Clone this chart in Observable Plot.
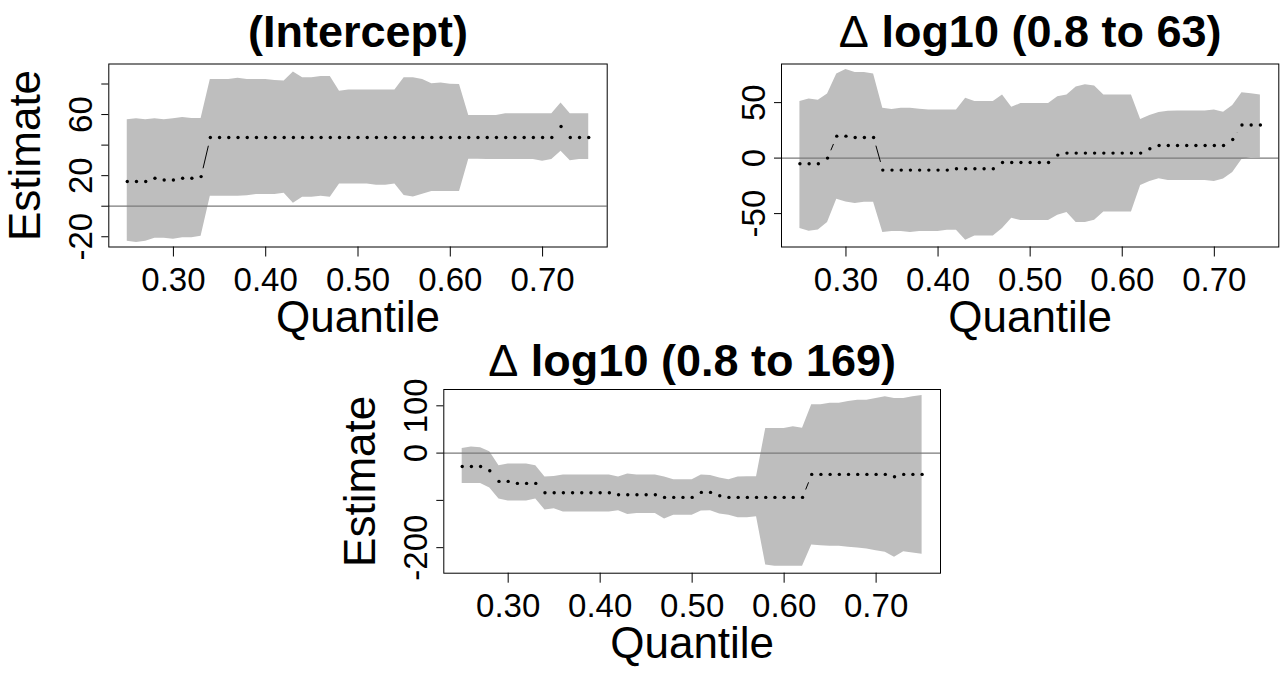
<!DOCTYPE html>
<html><head><meta charset="utf-8">
<script src="https://cdn.jsdelivr.net/npm/d3@7"></script>
<script src="https://cdn.jsdelivr.net/npm/@observablehq/plot@0.6"></script>
<style>
body{margin:0;background:#fff}
#chart{position:relative;width:1282px;height:675px;background:#fff;overflow:hidden}
#chart svg{position:absolute;overflow:visible}
</style></head><body><div id="chart"></div>
<script>
// ---------- data ----------
const taus = [0.25,0.26,0.27,0.28,0.29,0.30,0.31,0.32,0.33,0.34,0.35,0.36,0.37,0.38,0.39,0.40,0.41,0.42,0.43,0.44,0.45,0.46,0.47,0.48,0.49,0.50,0.51,0.52,0.53,0.54,0.55,0.56,0.57,0.58,0.59,0.60,0.61,0.62,0.63,0.64,0.65,0.66,0.67,0.68,0.69,0.70,0.71,0.72,0.73,0.74,0.75];

const interceptEst = [16.2,16.2,16.2,18.3,17.2,17.2,18.3,18.3,19.4,
  45.0,45.0,45.0,45.0,45.0,45.0,45.0,45.0,45.0,45.0,45.0,45.0,45.0,45.0,
  45.0,45.0,45.0,45.0,45.0,45.0,45.0,45.0,45.0,45.0,45.0,45.0,45.0,45.0,
  45.0,45.0,45.0,45.0,45.0,45.0,45.0,45.0,45.0,45.0,52.2,45.0,45.0,45.0];
const interceptHi = [56.6,57.2,56.6,57.2,56.6,57.2,58.1,57.4,57.4,
  83.0,83.0,83.0,83.8,83.0,83.0,83.0,82.3,81.9,87.8,84.1,84.1,84.9,84.9,
  75.3,76.0,76.0,76.0,76.0,76.0,76.0,84.1,84.1,83.0,80.1,80.6,79.9,79.7,
  59.4,59.4,59.4,59.4,60.5,60.5,60.5,60.5,60.5,60.5,67.5,60.5,60.5,60.5];
const interceptLo = [-22.9,-23.8,-22.9,-21.0,-21.0,-21.6,-20.7,-20.7,-19.7,
  6.6,6.6,6.6,6.6,6.8,7.6,7.6,7.6,8.5,2.0,5.9,5.9,6.6,5.9,
  14.6,14.6,14.6,14.6,13.8,13.8,14.6,7.0,6.1,7.9,9.6,9.6,9.6,9.6,
  30.8,30.8,30.6,30.6,30.6,30.6,30.6,30.6,29.5,30.6,36.0,29.7,30.6,30.6];

const d63Est = [-5.1,-5.1,-5.1,0.0,19.8,19.8,18.6,18.6,18.6,
  -10.8,-10.8,-10.8,-10.8,-10.8,-10.8,-10.8,-10.8,-9.6,-9.6,-9.6,-9.6,-9.6,-3.9,
  -3.9,-3.9,-3.9,-3.9,-3.9,2.7,4.5,4.5,4.5,4.5,4.5,4.5,4.5,4.5,
  4.5,8.4,11.4,11.4,11.4,11.4,11.4,11.4,11.4,11.4,16.8,29.9,29.9,29.9];
const d63Hi = [50.9,53.3,52.1,57.8,75.7,79.9,77.2,77.2,75.7,
  44.9,43.7,44.9,44.9,44.0,43.4,43.4,43.4,43.4,53.9,50.9,50.9,50.9,56.9,
  45.8,49.1,49.1,49.1,49.1,55.4,56.9,64.1,66.2,65.0,56.9,56.9,56.9,56.9,
  34.7,38.3,41.0,42.2,42.5,42.5,42.5,42.5,43.4,41.3,47.3,59.0,58.1,56.9];
const d63Lo = [-63.5,-65.9,-64.7,-58.1,-37.1,-39.5,-41.0,-39.8,-39.8,
  -67.1,-66.2,-66.2,-67.1,-66.2,-66.2,-66.2,-65.0,-65.0,-74.0,-70.1,-70.1,-70.1,-63.5,
  -54.2,-56.3,-56.3,-56.3,-56.3,-51.5,-49.1,-58.1,-58.1,-56.0,-48.5,-48.5,-48.5,-48.5,
  -24.6,-21.0,-18.6,-20.1,-20.1,-20.1,-20.1,-20.1,-21.0,-18.9,-12.9,-1.2,0.5,0.3];

const d169Est = [-28.2,-28.2,-28.2,-37.3,-59.9,-59.9,-64.1,-64.1,-64.1,
  -83.8,-83.8,-83.8,-83.8,-83.8,-83.8,-83.8,-83.8,-88.0,-88.0,-88.0,-88.0,-88.0,-93.7,
  -93.7,-93.7,-93.7,-83.1,-83.1,-90.1,-93.7,-93.7,-93.7,-93.7,-93.7,-93.7,-93.7,-93.7,
  -93.7,-45.1,-45.1,-45.1,-45.1,-45.1,-45.1,-45.1,-45.1,-45.1,-50.0,-45.1,-45.1,-45.1];
const d169Hi = [9.9,12.7,11.3,2.8,-26.8,-23.2,-23.2,-23.2,-26.8,
  -50.7,-49.3,-46.5,-46.5,-46.5,-46.5,-46.5,-46.5,-50.7,-44.4,-46.5,-46.5,-46.5,-50.7,
  -56.3,-56.3,-56.3,-46.5,-47.2,-52.8,-56.3,-50.7,-50.0,-50.0,52.1,52.1,52.1,55.6,
  52.8,102.1,102.1,105.6,105.6,109.2,112.0,112.0,115.5,119.0,115.5,115.5,119.0,121.8];
const d169Lo = [-64.1,-64.1,-64.1,-73.9,-97.2,-101.4,-101.4,-101.4,-97.2,
  -120.4,-117.6,-124.6,-124.6,-124.6,-124.6,-124.6,-124.6,-121.8,-129.6,-127.5,-127.5,-127.5,-139.4,
  -131.7,-131.7,-131.7,-122.5,-121.8,-128.9,-131.7,-136.6,-136.6,-134.5,-236.6,-239.4,-239.4,-239.4,
  -239.4,-194.4,-195.8,-197.2,-197.2,-199.3,-200.7,-202.8,-206.3,-209.9,-220.4,-208.5,-211.3,-214.1];

const titles = ["(Intercept)", "\u0394 log10 (0.8 to 63)", "\u0394 log10 (0.8 to 169)"];
const xLabel = "Quantile";
const yLabel = "Estimate";
const xTicks = [0.30, 0.40, 0.50, 0.60, 0.70];
const xTickLabels = ["0.30", "0.40", "0.50", "0.60", "0.70"];
const yTicks1 = [-20, 0, 20, 40, 60, 80];
const yTickLabels1 = ["-20", "20", "60"];
const yTicks2 = [-50, 0, 50];
const yTickLabels2 = ["-50", "0", "50"];
const yTicks3 = [-200, -100, 0, 100];
const yTickLabels3 = ["-200", "0", "100"];

// ---------- layout ----------
const FONT = "'Liberation Sans', Arial, Helvetica, sans-serif";
const panels = [
  {left:0, top:0, width:641, height:340, mL:108.3, mR:34.3, mT:63.5, mB:93.5,
   yDomain:[-26.7, 93.1], est:interceptEst, lo:interceptLo, hi:interceptHi,
   title:titles[0], titleDy:-17.5, showY:true,
   yTicks:yTicks1, yTickLabels:yTickLabels1},
  {left:641, top:0, width:641, height:340, mL:140, mR:3.7, mT:63.5, mB:93.5,
   yDomain:[-80.1, 84.8], est:d63Est, lo:d63Lo, hi:d63Hi,
   title:titles[1], titleDy:-17, showY:false,
   yTicks:yTicks2, yTickLabels:yTickLabels2},
  {left:320, top:325, width:641, height:350, mL:123.3, mR:21, mT:64, mB:102.3,
   yDomain:[-254, 134.5], est:d169Est, lo:d169Lo, hi:d169Hi,
   title:titles[2], titleDy:-14, showY:true,
   yTicks:yTicks3, yTickLabels:yTickLabels3}
];

function build(cfg, rows, links) {
  const marks = [
    Plot.areaY(rows, {x:"q", y1:"lo", y2:"hi", fill:"#bebebe"}),
    Plot.ruleY([0], {stroke:"#7a7a7a", strokeWidth:1.2}),
    Plot.link(links, {x1:"x1", y1:"y1", x2:"x2", y2:"y2", stroke:"black", strokeWidth:1}),
    Plot.dot(rows, {x:"q", y:"est", r:1.7, fill:"black", stroke:null}),
    Plot.frame({stroke:"black", strokeWidth:1}),
    Plot.axisX({ticks:xTicks, tickSize:10, tickFormat:() => "", label:null, stroke:"black"}),
    Plot.axisY({ticks:cfg.yTicks, tickSize:7, tickFormat:() => "", label:null, stroke:"black"}),
    Plot.text(xTicks, {x:d => d, text:(d, i) => xTickLabels[i], frameAnchor:"bottom", dy:43.5,
      textAnchor:"middle", lineAnchor:"bottom", fontSize:33}),
    Plot.text(cfg.yTickLabels, {y:d => +d, text:d => d, frameAnchor:"left", dx:-17, rotate:-90,
      textAnchor:"middle", lineAnchor:"bottom", fontSize:33}),
    Plot.text([cfg.title], {frameAnchor:"top", dy:cfg.titleDy, textAnchor:"middle",
      lineAnchor:"bottom", fontSize:45, fontWeight:"bold"}),
    Plot.text([xLabel], {frameAnchor:"bottom", dy:85, textAnchor:"middle",
      lineAnchor:"bottom", fontSize:44})
  ];
  if (cfg.showY) marks.push(Plot.text([yLabel], {frameAnchor:"left", dx:-69, rotate:-90,
      textAnchor:"middle", lineAnchor:"bottom", fontSize:44}));
  return Plot.plot({
    width:cfg.width, height:cfg.height,
    marginLeft:cfg.mL, marginRight:cfg.mR, marginTop:cfg.mT, marginBottom:cfg.mB,
    style:{fontFamily:FONT, background:"transparent", overflow:"visible"},
    x:{domain:[0.23, 0.77]},
    y:{domain:cfg.yDomain},
    marks
  });
}

const chart = document.getElementById("chart");
const GAP = 8.5; // gap left around points by R's type = "b"
for (const cfg of panels) {
  const rows = taus.map((q, i) => ({q, est:cfg.est[i], lo:cfg.lo[i], hi:cfg.hi[i]}));
  const probe = build(cfg, rows, []);
  const sx = probe.scale("x"), sy = probe.scale("y");
  const links = [];
  for (let i = 1; i < rows.length; i++) {
    const ax = sx.apply(rows[i-1].q), ay = sy.apply(rows[i-1].est);
    const bx = sx.apply(rows[i].q), by = sy.apply(rows[i].est);
    const d = Math.hypot(bx - ax, by - ay);
    if (d <= 2 * GAP) continue;
    const t = GAP / d;
    links.push({
      x1:sx.invert(ax + (bx - ax) * t), y1:sy.invert(ay + (by - ay) * t),
      x2:sx.invert(bx - (bx - ax) * t), y2:sy.invert(by - (by - ay) * t)
    });
  }
  const svg = build(cfg, rows, links);
  svg.style.left = cfg.left + "px";
  svg.style.top = cfg.top + "px";
  // Delta symbol drawn in normal weight, as in R plotmath
  svg.querySelectorAll("text").forEach(t => {
    if (t.textContent.startsWith("\u0394")) {
      const rest = t.textContent.slice(1);
      t.textContent = "";
      const ns = "http://www.w3.org/2000/svg";
      const a = document.createElementNS(ns, "tspan");
      a.setAttribute("font-weight", "normal");
      a.textContent = "\u0394";
      const b = document.createElementNS(ns, "tspan");
      b.textContent = rest;
      t.append(a, b);
    }
  });
  chart.appendChild(svg);
}
</script></body></html>
